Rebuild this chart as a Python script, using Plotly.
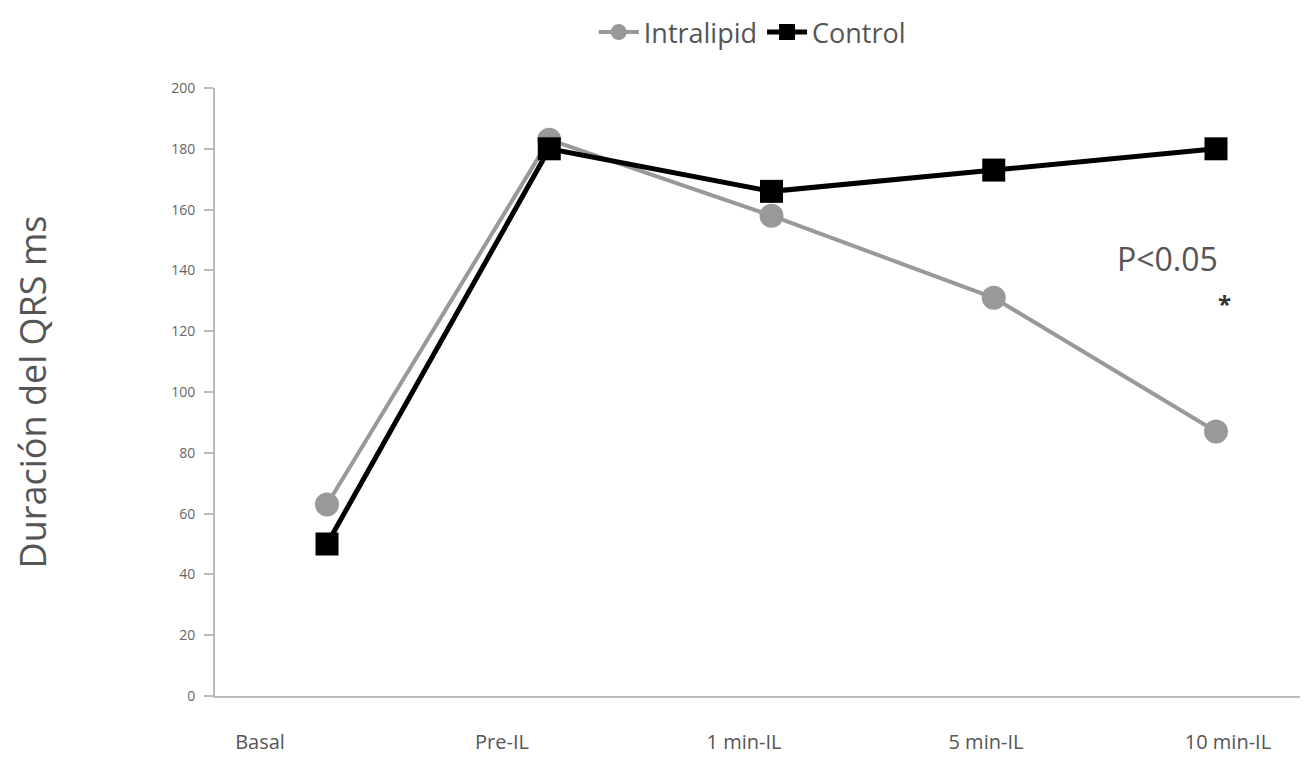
import plotly.graph_objects as go

categories = ["Basal", "Pre-IL", "1 min-IL", "5 min-IL", "10 min-IL"]
intralipid = [63, 183, 158, 131, 87]
control = [50, 180, 166, 173, 180]
y_ticks = list(range(0, 201, 20))
label_positions = list(range(len(categories)))

fig = go.Figure()
fig.add_trace(go.Scatter(
    x=categories, y=intralipid, name="Intralipid", mode="lines+markers",
    line=dict(color="#999999", width=4),
    marker=dict(symbol="circle", size=24, color="#999999"),
))
fig.add_trace(go.Scatter(
    x=categories, y=control, name="Control", mode="lines+markers",
    line=dict(color="#000000", width=5),
    marker=dict(symbol="square", size=23, color="#000000"),
))
# invisible helper trace so the label axis (xaxis2) is rendered
fig.add_trace(go.Scatter(
    x=label_positions, y=control, xaxis="x2", mode="markers",
    marker=dict(opacity=0), showlegend=False, hoverinfo="skip",
))

fig.add_annotation(x="10 min-IL", y=144, text="P<0.05", showarrow=False,
                   xshift=-48, font=dict(family="Open Sans", size=32, color="#555555"))
fig.add_annotation(x="10 min-IL", y=129, text="<b>*</b>", showarrow=False,
                   xshift=9, font=dict(family="Open Sans", size=24, color="#333333"))

fig.update_layout(
    width=1308, height=777,
    margin=dict(l=207, r=0, t=80, b=89),
    plot_bgcolor="white", paper_bgcolor="white",
    font=dict(family="Open Sans", color="#444444"),
    showlegend=True,
    legend=dict(orientation="h", x=0.488, xanchor="center", y=1.092, yanchor="middle",
                font=dict(size=27, color="#555555"), itemwidth=40, tracegroupgap=0),
    xaxis=dict(
        type="category", range=[-0.504, 4.45],
        showline=True, linecolor="#bbbbbb", linewidth=2,
        showgrid=False, zeroline=False,
        ticks="", showticklabels=False,
    ),
    xaxis2=dict(
        overlaying="x", anchor="y", side="bottom",
        range=[-0.186, 4.364],
        tickvals=label_positions, ticktext=categories,
        showline=False, showgrid=False, zeroline=False,
        ticks="", ticklabelstandoff=32,
        tickfont=dict(size=20, color="#555555"),
    ),
    yaxis=dict(
        range=[0, 200], tickvals=y_ticks,
        showline=True, linecolor="#bbbbbb", linewidth=2,
        showgrid=False, zeroline=False,
        ticks="outside", ticklen=9, tickcolor="#bbbbbb", tickwidth=1.5,
        ticklabelstandoff=6,
        tickfont=dict(size=14, color="#666666"),
        title=dict(text="Duración del QRS ms", font=dict(size=36, color="#555555"), standoff=118),
    ),
)

fig.write_html("out.html")
